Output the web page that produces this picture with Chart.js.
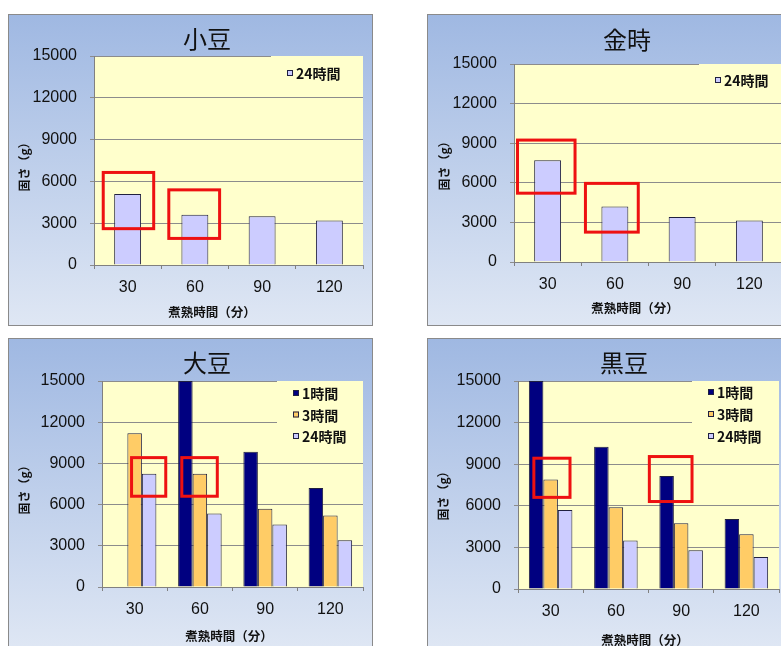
<!DOCTYPE html>
<html>
<head>
<meta charset="utf-8">
<script src="https://cdn.jsdelivr.net/npm/chart.js@4.4.1/dist/chart.umd.min.js"></script>
<style>
  html, body { margin: 0; padding: 0; background: #fff; width: 781px; height: 646px; overflow: hidden; }
  .panel {
    position: absolute; width: 365px; height: 312px;
    background: linear-gradient(#9fb8e2, #dfe7f4);
    box-shadow: inset 0 0 0 1px #8a8a8a;
  }
  .panel canvas { position: absolute; left: 0; top: 0; }
</style>
</head>
<body>
<div class="panel" style="left:8px;top:14px"><canvas id="azuki" width="365" height="312"></canvas></div>
<div class="panel" style="left:427px;top:14px"><canvas id="kintoki" width="365" height="312"></canvas></div>
<div class="panel" style="left:8px;top:338px"><canvas id="daizu" width="365" height="312"></canvas></div>
<div class="panel" style="left:427px;top:338px"><canvas id="kuromame" width="365" height="312"></canvas></div>
<script>
// ---- data ----
const cookMinutes = ['30', '60', '90', '120'];          // 煮熟時間（分）
const hardnessTicks = [0, 3000, 6000, 9000, 12000, 15000]; // 固さ（g）
const soakLabels = ['1時間', '3時間', '24時間'];           // 浸漬時間

const azuki24h    = [5100, 3600, 3500, 3200];
const kintoki24h  = [7700, 4200, 3400, 3150];
const daizu1h     = [null, 15000, 9850, 7200];
const daizu3h     = [11200, 8250, 5700, 5200];
const daizu24h    = [8250, 5350, 4550, 3400];
const kuromame1h  = [15000, 10250, 8150, 5050];
const kuromame3h  = [7900, 5900, 4750, 3950];
const kuromame24h = [5700, 3500, 2800, 2300];

// highlighted regions: x in category-index units, y in grams
const azukiMarks    = [{ x: [-0.385, 0.41], y: [2500, 6750] }, { x: [0.59, 1.39], y: [1800, 5500] }];
const kintokiMarks  = [{ x: [-0.47, 0.43], y: [5100, 9350] },  { x: [0.54, 1.37], y: [2150, 6070] }];
const daizuMarks    = [{ x: [-0.07, 0.5], y: [6500, 9530] },   { x: [0.70, 1.29], y: [6500, 9530] }];
const kuromameMarks = [{ x: [-0.28, 0.32], y: [6500, 9540] },  { x: [1.49, 2.19], y: [6200, 9660] }];

const xTitle = '煮熟時間（分）';
const yTitle = '固さ（g）';

// ---- styles ----
const NAVY = '#000080', ORANGE = '#ffcc66', LAVENDER = '#ccccff', EDGE = '#202040';
const TICK_FONT = { family: '"Liberation Sans", Arial, sans-serif', size: 16 };
const JP = '"Noto Sans CJK JP", "Noto Sans", sans-serif';

const panelDecor = {
  id: 'panelDecor',
  beforeDraw(chart, args, o) {
    const { ctx, chartArea: a } = chart;
    ctx.save();
    ctx.fillStyle = '#ffffcc';
    ctx.fillRect(a.left, a.top, a.width, a.height);
    ctx.restore();
  },
  beforeDatasetsDraw(chart, args, o) {
    // legend box background sits over the grid lines
    const { ctx, chartArea: a } = chart;
    const n = chart.data.datasets.length;
    const [lx, ly, gap] = o.legend;
    ctx.save();
    ctx.fillStyle = '#ffffcc';
    ctx.fillRect(lx - 16, a.top, a.right - (lx - 16), ly + (n - 1) * gap + 12 - a.top);
    ctx.restore();
  },
  afterDatasetsDraw(chart, args, o) {
    const { ctx, scales: { x, y } } = chart;
    const cw = x.width / chart.data.labels.length;
    ctx.save();
    ctx.strokeStyle = '#ee1111';
    ctx.lineWidth = 3;
    for (const m of o.marks) {
      const x0 = x.getPixelForValue(Math.floor(m.x[0] + 0.5)) + (m.x[0] - Math.floor(m.x[0] + 0.5)) * cw;
      const x1 = x.getPixelForValue(Math.floor(m.x[1] + 0.5)) + (m.x[1] - Math.floor(m.x[1] + 0.5)) * cw;
      const y0 = y.getPixelForValue(m.y[1]);
      const y1 = y.getPixelForValue(m.y[0]);
      ctx.strokeRect(x0 + 1.5, y0 + 1.5, x1 - x0 - 3, y1 - y0 - 3);
    }
    ctx.restore();
  },
  afterDraw(chart, args, o) {
    const { ctx } = chart;
    ctx.save();
    ctx.fillStyle = '#111';
    ctx.textAlign = 'center';
    ctx.textBaseline = 'middle';
    // chart title
    ctx.font = '400 24px ' + JP;
    ctx.fillText(o.title, o.titleAt[0], o.titleAt[1]);
    // axis titles
    ctx.font = 'bold 12.5px ' + JP;
    ctx.fillText(xTitle, o.xTitleAt[0], o.xTitleAt[1]);
    ctx.save();
    ctx.translate(o.yTitleAt[0], o.yTitleAt[1]);
    ctx.rotate(-Math.PI / 2);
    ctx.font = 'bold 12px ' + JP;
    ctx.fillText(yTitle, 0, 0);
    ctx.restore();
    // legend
    const [lx, ly, gap] = o.legend;
    ctx.textAlign = 'left';
    ctx.font = 'bold 14px ' + JP;
    chart.data.datasets.forEach((ds, i) => {
      const cy = ly + i * gap;
      ctx.fillStyle = ds.backgroundColor;
      ctx.fillRect(lx, cy - 3, 6, 6);
      ctx.strokeStyle = EDGE;
      ctx.lineWidth = 1;
      ctx.strokeRect(lx + 0.5, cy - 2.5, 5, 5);
      ctx.fillStyle = '#111';
      ctx.fillText(ds.label, lx + 9, cy + 1);
    });
    ctx.restore();
  }
};

function bars(label, data, color) {
  return { label, data, backgroundColor: color, borderColor: EDGE, borderWidth: 1 };
}

function panelChart(id, datasets, box, deco) {
  const canvas = document.getElementById(id);
  const W = canvas.width, H = canvas.height;
  const [L, T, R, B] = box;
  return new Chart(canvas, {
    type: 'bar',
    data: { labels: cookMinutes, datasets },
    options: {
      responsive: false,
      animation: false,
      events: [],
      datasets: { bar: { categoryPercentage: datasets.length > 1 ? 0.667 : 0.4, barPercentage: 1 } },
      layout: { padding: { left: 0, top: T, right: W - R, bottom: 0 } },
      plugins: { legend: { display: false }, tooltip: { enabled: false }, title: { display: false }, panelDecor: deco },
      scales: {
        x: {
          offset: true,
          grid: { display: true, drawOnChartArea: false, drawTicks: true, tickLength: 4, color: '#808080', offset: true },
          border: { display: true, color: '#808080', width: 1 },
          ticks: { color: '#111', font: TICK_FONT, padding: 9, maxRotation: 0 },
          afterFit: s => { s.height = H - B; }
        },
        y: {
          min: 0, max: 15000,
          afterBuildTicks: s => { s.ticks = hardnessTicks.map(v => ({ value: v })); },
          grid: { color: '#8c8c8c', tickLength: 4, drawTicks: true },
          border: { display: true, color: '#808080', width: 1 },
          ticks: { color: '#111', font: TICK_FONT, padding: 13, callback: v => String(v) },
          afterFit: s => { s.width = L; }
        }
      }
    },
    plugins: [panelDecor]
  });
}

panelChart('azuki', [bars(soakLabels[2], azuki24h, LAVENDER)], [86, 42, 355, 251], {
  title: '小豆', titleAt: [199, 25], xTitleAt: [204, 298], yTitleAt: [16, 150],
  legend: [279, 59, 21], marks: azukiMarks
});
panelChart('kintoki', [bars(soakLabels[2], kintoki24h, LAVENDER)], [87, 50, 356, 248], {
  title: '金時', titleAt: [200, 26], xTitleAt: [208, 294], yTitleAt: [17, 149],
  legend: [288, 66, 21], marks: kintokiMarks
});
panelChart('daizu', [
  bars(soakLabels[0], daizu1h, NAVY),
  bars(soakLabels[1], daizu3h, ORANGE),
  bars(soakLabels[2], daizu24h, LAVENDER)
], [94, 43, 355, 249], {
  title: '大豆', titleAt: [199, 25], xTitleAt: [221, 298], yTitleAt: [16, 149],
  legend: [285, 55, 21.5], marks: daizuMarks
});
panelChart('kuromame', [
  bars(soakLabels[0], kuromame1h, NAVY),
  bars(soakLabels[1], kuromame3h, ORANGE),
  bars(soakLabels[2], kuromame24h, LAVENDER)
], [91, 43, 352, 251], {
  title: '黒豆', titleAt: [197, 25], xTitleAt: [218, 302], yTitleAt: [16, 155],
  legend: [281, 54, 22], marks: kuromameMarks
});
</script>
</body>
</html>
